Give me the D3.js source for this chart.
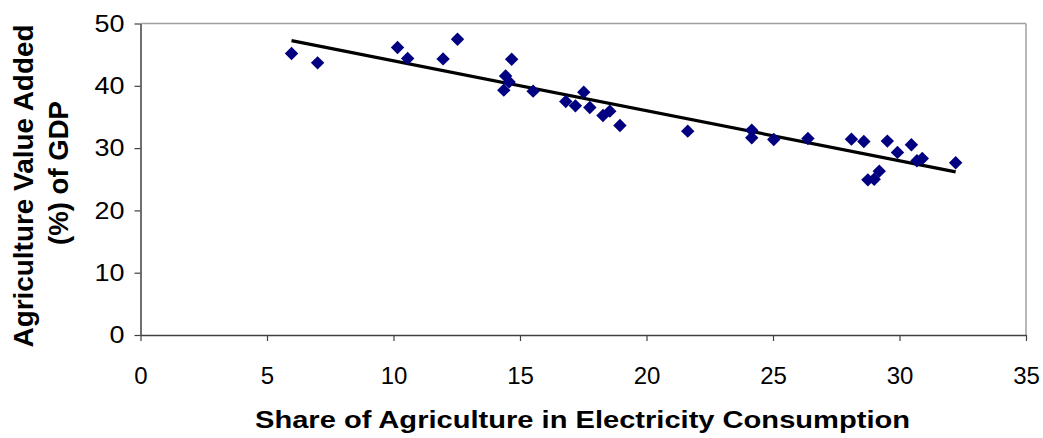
<!DOCTYPE html>
<html>
<head>
<meta charset="utf-8">
<script src="https://cdn.jsdelivr.net/npm/d3@7/dist/d3.min.js"></script>
<style>
  html, body { margin: 0; padding: 0; background: #fff; }
  svg { display: block; }
  text { font-family: "Liberation Sans", Arial, sans-serif; fill: #000; }
</style>
</head>
<body>
<svg id="chart" width="1043" height="438"></svg>
<script>
// Share of agriculture in electricity consumption (%)
const shareElec = [
  5.97, 7.00, 10.16, 10.56, 11.96, 12.53,
  14.67, 14.43, 14.57, 14.36, 15.52,
  16.81, 17.19, 17.52, 17.76, 18.28, 18.55, 18.95,
  21.63, 24.16, 24.16, 25.03, 26.38,
  28.10, 28.59, 29.52, 29.92, 30.47, 30.69, 30.90,
  29.20, 29.00, 28.75, 32.22
];
// Agriculture value added (% of GDP)
const agriVA = [
  45.19, 43.68, 46.15, 44.39, 44.32, 47.48,
  44.27, 41.59, 40.63, 39.30, 39.14,
  37.49, 36.78, 38.98, 36.53, 35.24, 35.93, 33.64,
  32.72, 32.88, 31.65, 31.39, 31.55,
  31.44, 31.07, 31.12, 29.31, 30.53, 27.96, 28.34,
  26.30, 25.00, 24.90, 27.64
];
// Linear trend fitted to the points
const trendSlope = -0.802;
const trendIntercept = 52.03;

const xTicks = [0, 5, 10, 15, 20, 25, 30, 35];
const yTicks = [0, 10, 20, 30, 40, 50];

const svg = d3.select("#chart");
const margin = { left: 140.5, top: 23.5, right: 1026, bottom: 335 };

const x = d3.scaleLinear().domain([0, 35]).range([margin.left, margin.right]);
const y = d3.scaleLinear().domain([0, 50]).range([margin.bottom, margin.top]);

// Plot-area frame: light top and right edges
svg.append("line")
  .attr("x1", x(0)).attr("x2", x(35)).attr("y1", y(50)).attr("y2", y(50))
  .attr("stroke", "#a0a0a0").attr("stroke-width", 1.5);
svg.append("line")
  .attr("x1", x(35)).attr("x2", x(35)).attr("y1", y(50)).attr("y2", y(0))
  .attr("stroke", "#a0a0a0").attr("stroke-width", 1.5);

// X axis
const xAxis = svg.append("g")
  .attr("transform", `translate(0,${y(0)})`)
  .call(d3.axisBottom(x).tickValues(xTicks).tickSize(6).tickSizeOuter(0).tickPadding(35));
// Y axis
const yAxis = svg.append("g")
  .attr("transform", `translate(${x(0)},0)`)
  .call(d3.axisLeft(y).tickValues(yTicks).tickSize(6).tickSizeOuter(0).tickPadding(10));

[xAxis, yAxis].forEach(g => {
  g.select(".domain").attr("stroke", "#404040").attr("stroke-width", 1.5);
  g.selectAll(".tick line").attr("stroke", "#404040").attr("stroke-width", 1.2);
  g.selectAll(".tick text")
    .style("font-family", "'Liberation Sans', Arial, sans-serif")
    .style("font-size", "24px")
    .attr("fill", "#000");
});
xAxis.selectAll(".tick text").attr("dy", "0.35em");
yAxis.selectAll(".tick text").attr("textLength", 30).attr("lengthAdjust", "spacingAndGlyphs")
  .filter(d => d < 10).attr("textLength", 15);

// Trend line across the range of the data
const xMin = d3.min(shareElec), xMax = d3.max(shareElec);
svg.append("line")
  .attr("x1", x(xMin)).attr("y1", y(trendIntercept + trendSlope * xMin))
  .attr("x2", x(xMax)).attr("y2", y(trendIntercept + trendSlope * xMax))
  .attr("stroke", "#000").attr("stroke-width", 3.2);

// Diamond markers
const points = shareElec.map((v, i) => [v, agriVA[i]]);
const diamond = d3.symbol().type(d3.symbolSquare).size(90);
svg.append("g").selectAll("path")
  .data(points)
  .join("path")
  .attr("d", diamond)
  .attr("transform", d => `translate(${x(d[0])},${y(d[1])}) rotate(45)`)
  .attr("fill", "#000080");

// Axis titles
svg.append("text")
  .attr("x", 582.5).attr("y", 428)
  .attr("text-anchor", "middle")
  .attr("textLength", 655).attr("lengthAdjust", "spacingAndGlyphs")
  .style("font-size", "23px").style("font-weight", "bold")
  .text("Share of Agriculture in Electricity Consumption");

svg.append("text")
  .attr("transform", "translate(33,186) rotate(-90)")
  .attr("text-anchor", "middle")
  .attr("textLength", 323).attr("lengthAdjust", "spacingAndGlyphs")
  .style("font-size", "28px").style("font-weight", "bold")
  .text("Agriculture Value Added");
svg.append("text")
  .attr("transform", "translate(68,173) rotate(-90)")
  .attr("text-anchor", "middle")
  .attr("textLength", 144).attr("lengthAdjust", "spacingAndGlyphs")
  .style("font-size", "28px").style("font-weight", "bold")
  .text("(%) of GDP");
</script>
</body>
</html>
